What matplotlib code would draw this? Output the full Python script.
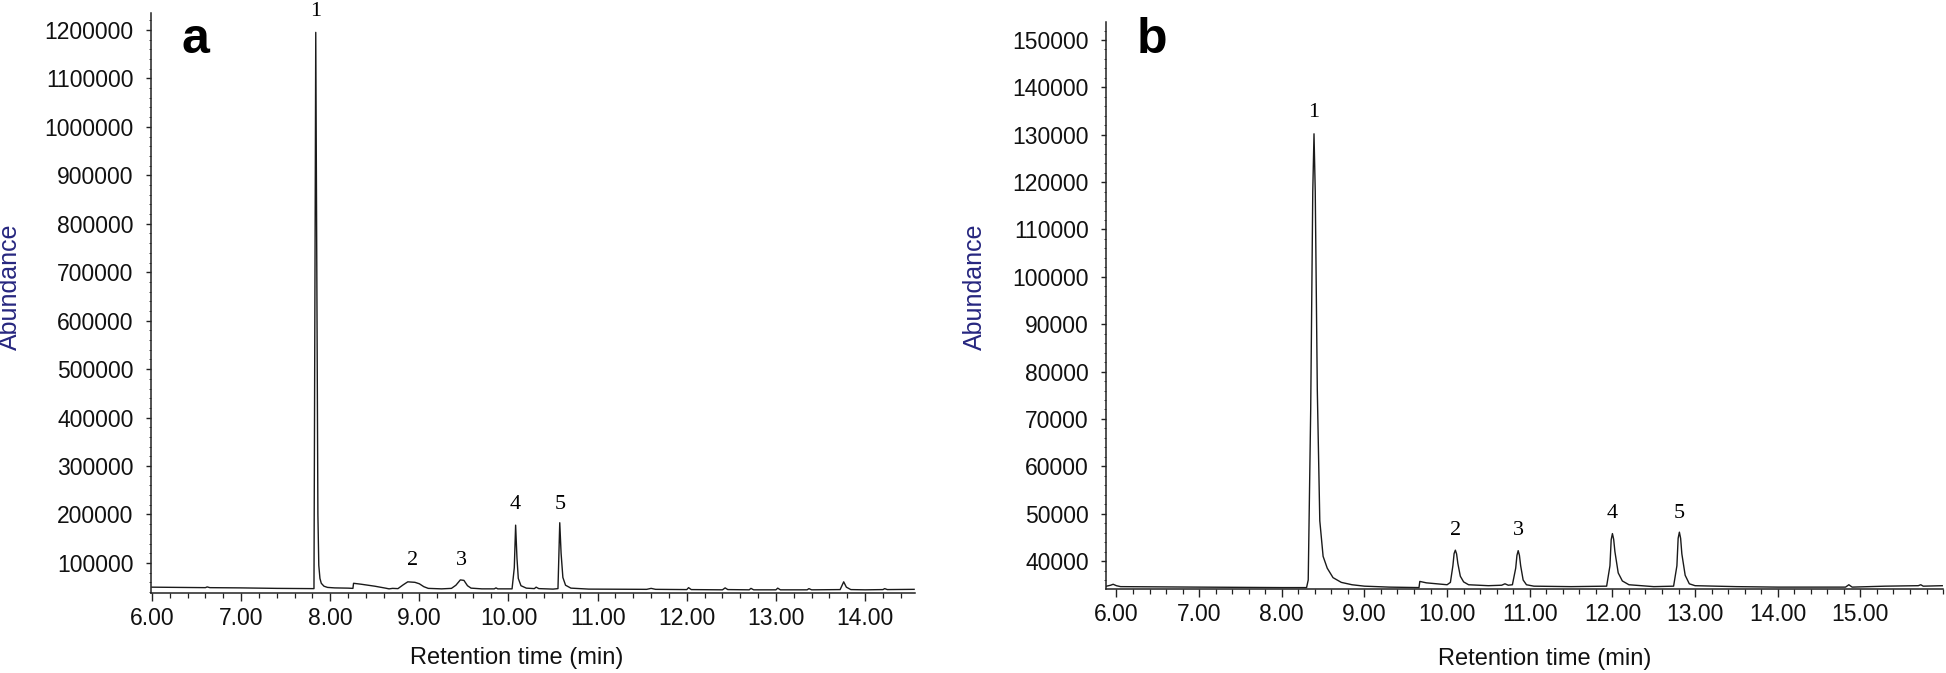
import matplotlib
matplotlib.use("Agg")
import matplotlib.pyplot as plt
from matplotlib.ticker import MultipleLocator, FixedLocator, FormatStrFormatter, AutoMinorLocator

plt.rcParams['font.family'] = ['Liberation Sans', 'DejaVu Sans']

# ---------------- Panel a data ----------------
a_time = [6.00, 6.30, 6.60, 6.62, 6.65, 7.00, 7.40, 7.80, 7.818, 7.838, 7.862, 7.872, 7.885, 7.90,
          7.93, 7.97, 8.05, 8.20, 8.255, 8.262, 8.35, 8.50, 8.62, 8.66, 8.70, 8.76, 8.82, 8.87,
          8.95, 9.00, 9.05, 9.10, 9.25, 9.36, 9.41, 9.46, 9.50, 9.54, 9.58, 9.70, 9.84, 9.86,
          9.88, 10.04, 10.065, 10.080, 10.095, 10.11, 10.14, 10.20, 10.29, 10.31, 10.34, 10.50,
          10.555, 10.575, 10.59, 10.61, 10.64, 10.70, 10.90, 11.55, 11.60, 11.65, 12.00, 12.02,
          12.05, 12.40, 12.43, 12.46, 12.70, 12.72, 12.75, 13.00, 13.02, 13.05, 13.35, 13.37,
          13.40, 13.72, 13.76, 13.79, 13.84, 14.00, 14.20, 14.22, 14.25, 14.55]
a_abund = [50000, 49500, 49000, 50500, 49000, 48500, 47500, 47000, 47000, 1195000, 200000, 95000,
           68000, 58000, 52000, 49500, 48500, 48000, 47500, 58000, 56000, 52000, 48000, 46500,
           47500, 47000, 55000, 61000, 60000, 57000, 51000, 47500, 46500, 47500, 54000, 65000,
           64000, 53000, 48000, 46500, 46500, 48500, 46500, 46500, 90000, 178000, 110000, 68000,
           53000, 48000, 47000, 50000, 47000, 46000, 47000, 183000, 120000, 70000, 54000, 48000,
           46000, 45500, 47500, 45500, 45000, 49000, 45000, 44500, 48500, 45000, 44500, 47500,
           44500, 44500, 48000, 44500, 44500, 47000, 44500, 45000, 61000, 50000, 45000, 44500,
           45000, 47000, 45000, 45500]
a_peak_labels = ["1", "2", "3", "4", "5"]
a_label_x = [7.84, 8.92, 9.47, 10.08, 10.58]
a_label_y = [1238000, 106000, 106000, 220000, 220000]
a_xticks = [6, 7, 8, 9, 10, 11, 12, 13, 14]
a_yticks = [100000, 200000, 300000, 400000, 500000, 600000, 700000, 800000, 900000,
            1000000, 1100000, 1200000]

# ---------------- Panel b data ----------------
b_time = [5.88, 5.93, 5.96, 6.00, 6.05, 7.00, 8.00, 8.30, 8.32, 8.35, 8.375, 8.39, 8.405, 8.43,
          8.46, 8.50, 8.55, 8.62, 8.72, 8.85, 9.00, 9.30, 9.66, 9.67, 9.75, 10.00, 10.04, 10.07,
          10.085, 10.10, 10.115, 10.13, 10.16, 10.20, 10.26, 10.50, 10.66, 10.70, 10.74, 10.79,
          10.83, 10.845, 10.86, 10.875, 10.89, 10.92, 10.96, 11.05, 11.50, 11.93, 11.97, 11.985,
          12.00, 12.015, 12.03, 12.07, 12.12, 12.20, 12.50, 12.74, 12.78, 12.795, 12.81, 12.825,
          12.84, 12.88, 12.93, 13.00, 13.50, 14.00, 14.50, 14.82, 14.86, 14.90, 15.30, 15.70,
          15.73, 15.76, 15.99]
b_abund = [34700, 34900, 35100, 34800, 34600, 34500, 34400, 34400, 36000, 72000, 118000, 130200,
           118000, 76000, 48500, 41000, 38500, 36500, 35500, 35000, 34700, 34500, 34400, 35700,
           35400, 35000, 35500, 39000, 41600, 42300, 41500, 39500, 36800, 35600, 35000, 34800,
           34900, 35200, 34900, 35000, 38500, 41200, 42200, 41200, 39000, 36000, 35000, 34700,
           34600, 34700, 39000, 44500, 45800, 44600, 42000, 37500, 35800, 35000, 34600, 34700,
           39000, 44800, 46100, 44800, 41500, 37000, 35200, 34800, 34600, 34500, 34500, 34500,
           35000, 34500, 34700, 34800, 35000, 34700, 34800]
b_peak_labels = ["1", "2", "3", "4", "5"]
b_label_x = [8.39, 10.10, 10.86, 12.00, 12.81]
b_label_y = [134600, 46500, 46500, 50100, 50100]
b_xticks = [6, 7, 8, 9, 10, 11, 12, 13, 14, 15]
b_yticks = [40000, 50000, 60000, 70000, 80000, 90000, 100000, 110000, 120000, 130000,
            140000, 150000]

ylab_color = '#26267f'
line_color = '#1a1a1a'

fig = plt.figure(figsize=(19.46, 6.73), dpi=100)
ax_a = fig.add_axes([0.0776, 0.1189, 0.3926, 0.8618])
ax_b = fig.add_axes([0.5684, 0.1248, 0.4301, 0.8425])


def style(ax, xt, yt, xlim, ylim, ylab_xy, xlab_xy, letter, letter_xy):
    ax.set_xlim(*xlim)
    ax.set_ylim(*ylim)
    for s in ['top', 'right']:
        ax.spines[s].set_visible(False)
    for s in ['left', 'bottom']:
        ax.spines[s].set_linewidth(1.1)
        ax.spines[s].set_color('#222222')
    ax.xaxis.set_major_locator(FixedLocator(xt))
    ax.xaxis.set_minor_locator(MultipleLocator(0.2))
    ax.xaxis.set_major_formatter(FormatStrFormatter('%.2f'))
    ax.yaxis.set_major_locator(FixedLocator(yt))
    ax.yaxis.set_minor_locator(AutoMinorLocator(5))
    ax.yaxis.set_major_formatter(FormatStrFormatter('%d'))
    ax.tick_params(axis='x', which='major', direction='out', length=6, width=1.0,
                   labelsize=16.5, pad=4, colors='#222222', labelcolor='#111111')
    ax.tick_params(axis='x', which='minor', direction='out', length=3.5, width=0.9, colors='#222222')
    ax.tick_params(axis='y', which='major', direction='out', length=3.5, width=1.0,
                   labelsize=16.5, pad=9, colors='#222222', labelcolor='#111111')
    ax.tick_params(axis='y', which='minor', direction='out', length=1.8, width=0.7, colors='#444444')
    ax.set_ylabel('Abundance', fontsize=18, color=ylab_color)
    ax.yaxis.set_label_coords(*ylab_xy)
    ax.set_xlabel('Retention time (min)', fontsize=17, color='#111111')
    ax.xaxis.set_label_coords(*xlab_xy)
    ax.text(letter_xy[0], letter_xy[1], letter, transform=ax.transAxes, fontsize=36,
            fontweight='bold', ha='center', va='baseline', color='black')


ax_a.plot(a_time, a_abund, color=line_color, lw=1.0)
for lab, x, y in zip(a_peak_labels, a_label_x, a_label_y):
    ax_a.text(x, y, lab, ha='center', va='center', fontsize=16,
              family=['Liberation Serif', 'DejaVu Serif'], clip_on=False)
style(ax_a, a_xticks, a_yticks, (5.99, 14.56), (38000, 1235000),
      (-0.169, 0.528), (0.478, -0.094), 'a', (0.0576, 0.931))

ax_b.plot(b_time, b_abund, color=line_color, lw=1.0)
for lab, x, y in zip(b_peak_labels, b_label_x, b_label_y):
    ax_b.text(x, y, lab, ha='center', va='center', fontsize=16,
              family=['Liberation Serif', 'DejaVu Serif'], clip_on=False)
style(ax_b, b_xticks, b_yticks, (5.875, 16.0), (34100, 153800),
      (-0.142, 0.533), (0.5245, -0.104), 'b', (0.0546, 0.9448))

fig.savefig('out.png', dpi=100, facecolor='white')
